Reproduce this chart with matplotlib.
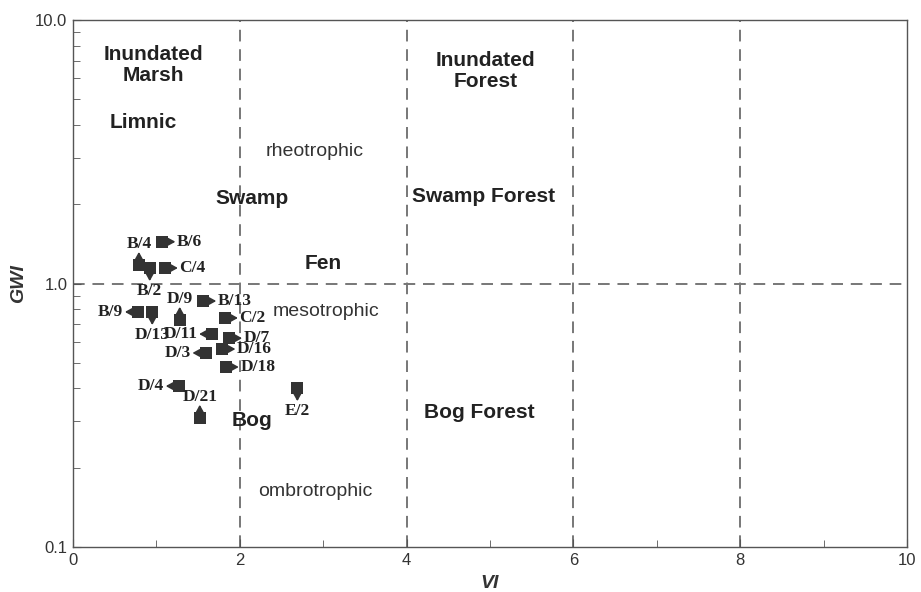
import matplotlib
matplotlib.use("Agg")
import matplotlib.pyplot as plt
from matplotlib.ticker import FixedLocator, NullFormatter, LogLocator

# data
labels = ["B/6", "B/4", "B/2", "C/4", "B/13", "D/9", "B/9", "D/13", "C/2",
          "D/11", "D/7", "D/16", "D/3", "D/18", "D/4", "D/21", "E/2"]
vi = [1.07, 0.79, 0.92, 1.10, 1.56, 1.28, 0.78, 0.95, 1.82,
      1.67, 1.87, 1.79, 1.59, 1.83, 1.27, 1.52, 2.69]
gwi = [1.44, 1.175, 1.145, 1.145, 0.858, 0.727, 0.78, 0.78, 0.74,
       0.643, 0.62, 0.564, 0.545, 0.482, 0.408, 0.309, 0.401]
arrow_dir = ["r", "u", "d", "r", "r", "u", "l", "d", "r",
             "l", "r", "r", "l", "r", "l", "u", "d"]

regions = ["Inundated\nMarsh", "Limnic", "Swamp", "Inundated\nForest", "Swamp Forest",
           "Fen", "Bog", "Bog Forest"]
region_x = [0.96, 0.84, 2.15, 4.95, 4.92, 3.0, 2.15, 4.87]
region_y = [6.75, 4.07, 2.11, 6.41, 2.13, 1.196, 0.303, 0.325]
trophic = ["rheotrophic", "mesotrophic", "ombrotrophic"]
trophic_x = [2.9, 3.03, 2.91]
trophic_y = [3.18, 0.786, 0.163]

vlines = [2, 4, 6, 8]
hlines = [1.0]

fig = plt.figure(figsize=(9.21, 5.92), dpi=100)
ax = fig.add_axes([73/921, 1-547/592, (907-73)/921, (547-20)/592])
ax.set_xlim(0, 10)
ax.set_yscale("log")
ax.set_ylim(0.1, 10)

grey = "#777777"
for v in vlines:
    ax.axvline(v, color=grey, ls=(0, (6, 4)), lw=1.4, zorder=1)
for h in hlines:
    ax.axhline(h, color=grey, ls=(0, (6, 4)), lw=1.4, zorder=1)

ax.scatter(vi, gwi, marker="s", s=85, color="#333333", zorder=3, linewidths=0)

tip = 9.5
lab_off = 10.5
unit = {"r": (1, 0), "l": (-1, 0), "u": (0, 1), "d": (0, -1)}
align = {"r": ("left", "center"), "l": ("right", "center"),
         "u": ("center", "bottom"), "d": ("center", "top")}
for lab, x, y, d in zip(labels, vi, gwi, arrow_dir):
    ux, uy = unit[d]
    ha, va = align[d]
    ax.annotate("", xy=(x, y), xytext=(ux * tip, uy * tip), textcoords="offset points",
                zorder=4,
                arrowprops=dict(arrowstyle="<|-,head_length=0.4,head_width=0.22",
                                color="#333333", lw=1.3, shrinkA=0, shrinkB=4.4,
                                mutation_scale=10))
    ax.annotate(lab, xy=(x, y), xytext=(ux * lab_off, uy * lab_off - (1 if d == "u" else 0)),
                textcoords="offset points", ha=ha, va=va, fontsize=12.5, fontweight="bold",
                family="Liberation Serif", color="#222222", zorder=4)

for t, x, y in zip(regions, region_x, region_y):
    ax.text(x, y, t, ha="center", va="center", fontsize=15, fontweight="bold",
            family="Liberation Sans", color="#222222", linespacing=1.1)
for t, x, y in zip(trophic, trophic_x, trophic_y):
    ax.text(x, y, t, ha="center", va="center", fontsize=14,
            family="Liberation Sans", color="#333333")

ax.set_xticks([0, 2, 4, 6, 8, 10])
ax.set_xticklabels(["0", "2", "4", "6", "8", "10"])
ax.xaxis.set_minor_locator(FixedLocator([1, 3, 5, 7, 9]))
ax.set_yticks([0.1, 1.0, 10.0])
ax.set_yticklabels(["0.1", "1.0", "10.0"])
ax.yaxis.set_minor_locator(LogLocator(base=10, subs=range(2, 10)))
ax.yaxis.set_minor_formatter(NullFormatter())
ax.tick_params(which="both", direction="in", colors="#555555", labelcolor="#333333",
               labelsize=12, top=False, right=False)
ax.tick_params(which="major", length=6, pad=4)
ax.tick_params(which="minor", length=5)
for lbl in ax.get_xticklabels() + ax.get_yticklabels():
    lbl.set_family("Liberation Sans")
for sp in ax.spines.values():
    sp.set_color("#555555")
    sp.set_linewidth(1.0)

ax.set_xlabel("VI", fontsize=14, fontweight="bold", style="italic",
              family="Liberation Sans", color="#333333", labelpad=5)
ax.set_ylabel("GWI", fontsize=14, fontweight="bold", style="italic",
              family="Liberation Sans", color="#333333", labelpad=6)

fig.savefig("out.png", dpi=100)
